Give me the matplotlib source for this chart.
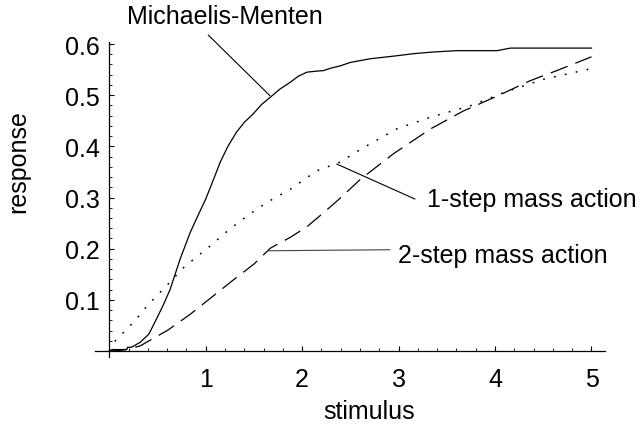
import matplotlib
matplotlib.use("Agg")
import matplotlib.pyplot as plt

plt.rcParams['font.family'] = ['Liberation Sans', 'DejaVu Sans']
plt.rcParams['lines.scale_dashes'] = False

# Michaelis-Menten (solid)
mm_x = [0, 0.03, 0.18, 0.19, 0.23, 0.32, 0.41, 0.49, 0.56, 0.63, 0.735, 0.84, 0.92, 1.0, 1.08,
        1.15, 1.23, 1.32, 1.4, 1.49, 1.58, 1.67, 1.77, 1.875, 1.96, 2.05, 2.15, 2.22, 2.3, 2.39,
        2.5, 2.7, 2.98, 3.15, 3.33, 3.6, 4.02, 4.16, 4.5, 5.0]
mm_y = [0, 0.003, 0.003, 0.0075, 0.0075, 0.017, 0.033, 0.063, 0.09, 0.12, 0.18, 0.232, 0.265, 0.297, 0.335,
        0.369, 0.40, 0.428, 0.447, 0.463, 0.482, 0.496, 0.512, 0.525, 0.537, 0.545, 0.547, 0.548, 0.553, 0.557,
        0.564, 0.571, 0.577, 0.581, 0.584, 0.587, 0.587, 0.592, 0.592, 0.592]

# 1-step mass action (dotted)
one_x = [0, 0.062, 0.25, 0.41, 0.6, 0.77, 1.05, 1.24, 1.43, 1.63, 1.875, 2.15, 2.39, 2.64, 2.98,
         3.33, 3.74, 4.09, 4.5, 5.0]
one_y = [0, 0.02, 0.056, 0.092, 0.129, 0.163, 0.206, 0.237, 0.264, 0.29, 0.316, 0.352, 0.369, 0.398, 0.434,
         0.457, 0.479, 0.505, 0.531, 0.552]

# 2-step mass action (dashed)
two_x = [0, 0.15, 0.32, 0.477, 0.6, 0.84, 1.08, 1.32, 1.5, 1.67, 1.875, 2.05, 2.22, 2.39, 2.6,
         2.95, 3.33, 3.67, 4.02, 4.36, 4.64, 5.0]
two_y = [0, 0.002, 0.01, 0.027, 0.04, 0.072, 0.108, 0.144, 0.17, 0.201, 0.222, 0.243, 0.27, 0.298, 0.335,
         0.386, 0.434, 0.469, 0.498, 0.528, 0.548, 0.575]

x_ticks = [1, 2, 3, 4, 5]
x_ticklabels = ["1", "2", "3", "4", "5"]
y_ticks = [0.1, 0.2, 0.3, 0.4, 0.5, 0.6]
y_ticklabels = ["0.1", "0.2", "0.3", "0.4", "0.5", "0.6"]

FS = 18

fig = plt.figure(figsize=(6.43, 4.27), dpi=100)
ax = fig.add_axes([95/643, 1 - 357.7/427, (605-95)/643, (357.7-42.7)/427])
ax.set_xlim(-0.148, 5.14)
ax.set_ylim(-0.011, 0.6045)

ax.plot(mm_x, mm_y, color='black', lw=0.9, solid_joinstyle='round')
ax.plot(one_x, one_y, color='black', lw=1.1, dashes=(1.3, 6.7), dash_capstyle='butt')
ax.plot(two_x, two_y, color='black', lw=0.9, dashes=(13, 6))

for s in ['top', 'right']:
    ax.spines[s].set_visible(False)
ax.spines['left'].set_position(('data', 0))
ax.spines['bottom'].set_position(('data', 0))
ax.spines['left'].set_linewidth(0.9)
ax.spines['bottom'].set_linewidth(0.9)

ax.set_xticks(x_ticks)
ax.set_xticklabels(x_ticklabels)
ax.set_yticks(y_ticks)
ax.set_yticklabels(y_ticklabels)
ax.set_xticks([i * 0.2 for i in range(1, 26) if i % 5 != 0], minor=True)
ax.set_yticks([i * 0.02 for i in range(1, 31) if i % 5 != 0], minor=True)
ax.tick_params(axis='both', which='major', direction='in', length=3.5, width=0.8, labelsize=FS)
ax.tick_params(axis='both', which='minor', direction='in', length=2, width=0.6)
ax.tick_params(axis='x', which='major', pad=11.5)
ax.tick_params(axis='y', which='major', pad=6.5)

fig.text(369/643, 1 - 412/427, "stimulus", fontsize=FS, ha='center', va='center')
fig.text(18/643, 1 - 162/427, "response", fontsize=FS, ha='center', va='center', rotation=90)

# annotations
ax.annotate("", xy=(1.666, 0.499), xytext=(1.026, 0.6176), annotation_clip=False,
            arrowprops=dict(arrowstyle='-', lw=0.8, color='black', shrinkA=0, shrinkB=0))
ax.text(0.18, 0.641, "Michaelis-Menten", fontsize=FS, ha='left', va='baseline', clip_on=False)

ax.annotate("", xy=(2.358, 0.3655), xytext=(3.17, 0.297),
            arrowprops=dict(arrowstyle='-', lw=0.8, color='black', shrinkA=0, shrinkB=0))
ax.text(3.29, 0.284, "1-step mass action", fontsize=FS, ha='left', va='baseline', clip_on=False)

ax.annotate("", xy=(1.648, 0.196), xytext=(2.91, 0.198),
            arrowprops=dict(arrowstyle='-', lw=0.8, color='#444444', shrinkA=0, shrinkB=0))
ax.text(2.996, 0.1733, "2-step mass action", fontsize=FS, ha='left', va='baseline', clip_on=False)

fig.savefig("out.png", dpi=100)
